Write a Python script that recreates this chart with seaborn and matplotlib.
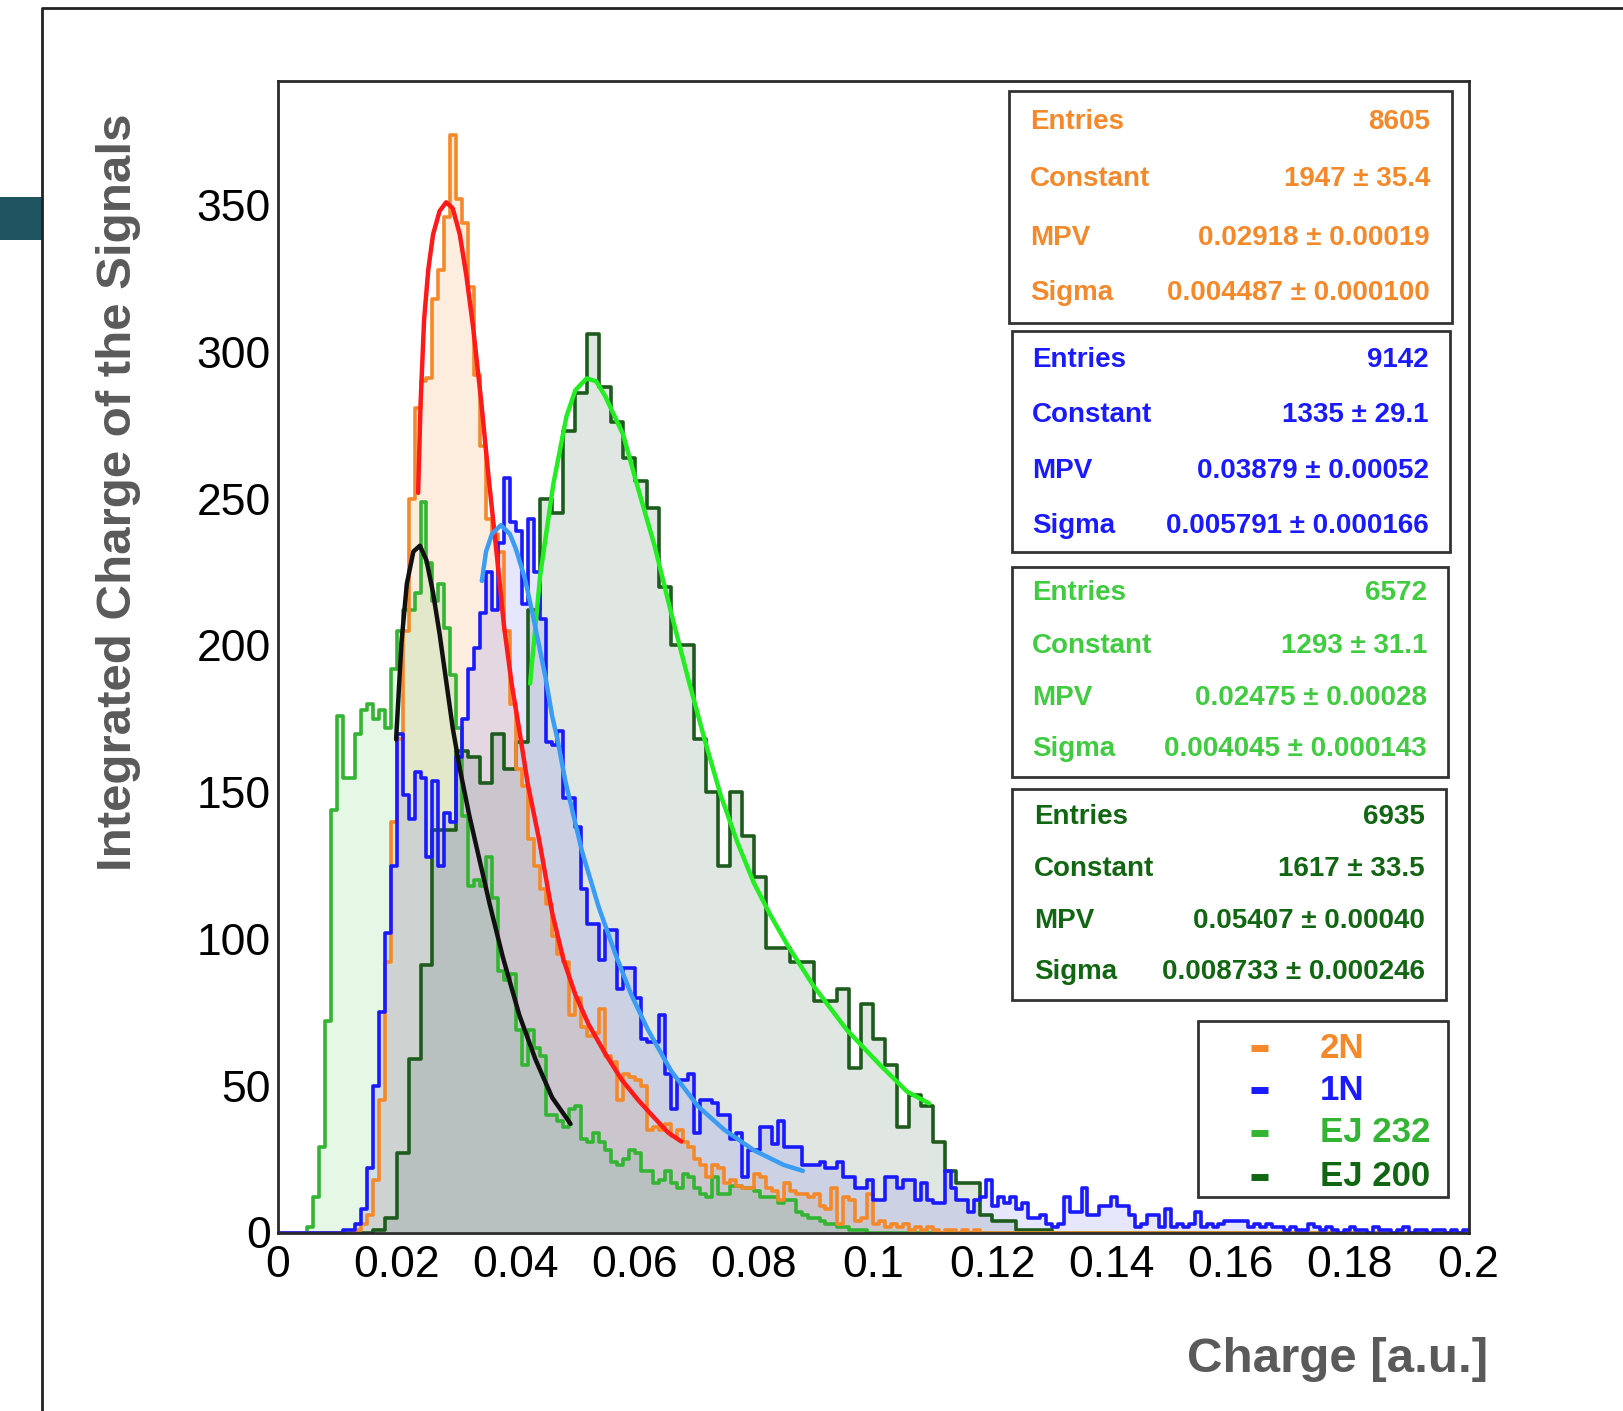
import numpy as np
import pandas as pd
import matplotlib
matplotlib.use("Agg")
import matplotlib.pyplot as plt
import seaborn as sns
from matplotlib.patches import Rectangle
from matplotlib.lines import Line2D
from matplotlib.ticker import MultipleLocator, FuncFormatter

# ---- histogram contents (counts per bin) ----
# 2N, 1N and EJ 232 use 0.001 wide bins, EJ 200 uses 0.002 wide bins
bw_fine = 0.001
bw_coarse = 0.002

start_2n = 0.013
counts_2n = [1, 3, 6, 18, 45, 92, 140, 168, 205, 250, 281, 290, 291, 318, 328, 346, 374, 352,
             344, 322, 292, 268, 243, 238, 232, 205, 180, 158, 152, 134, 125, 117, 112, 101, 95,
             92, 74, 80, 70, 67, 68, 76, 60, 58, 45, 54, 53, 52, 50, 35, 36, 35, 37, 33, 35, 31,
             29, 25, 23, 19, 23, 22, 17, 18, 16, 15, 15, 20, 19, 15, 14, 11, 17, 14, 13, 13, 12,
             13, 9, 8, 15, 3, 12, 11, 4, 5, 13, 3, 4, 2, 3, 2, 3, 1, 2, 1, 2, 1, 0, 1, 1, 0, 1, 0, 1]

start_1n = 0.011
counts_1n = [1, 1, 3, 8, 22, 50, 75, 102, 125, 170, 149, 141, 157, 155, 128, 154, 125, 143, 140,
             162, 175, 192, 199, 211, 225, 212, 235, 257, 242, 239, 214, 243, 225, 209, 167, 166,
             171, 148, 148, 138, 117, 105, 105, 93, 103, 103, 83, 90, 90, 80, 66, 65, 65, 74, 54,
             42, 52, 52, 54, 34, 45, 45, 44, 40, 40, 32, 34, 19, 28, 28, 36, 36, 30, 38, 29, 29,
             29, 23, 23, 23, 24, 22, 22, 24, 19, 19, 15, 15, 18, 11, 11, 19, 19, 15, 18, 18, 11,
             17, 11, 10, 10, 21, 15, 11, 11, 7, 11, 12, 18, 9, 12, 10, 12, 8, 10, 5, 5, 6, 3, 2,
             3, 12, 7, 7, 15, 6, 6, 9, 9, 12, 9, 9, 6, 2, 3, 6, 6, 2, 8, 2, 3, 2, 3, 7, 2, 3, 2,
             3, 4, 4, 4, 4, 2, 3, 2, 3, 2, 2, 1, 2, 1, 1, 3, 2, 1, 2, 1, 0, 1, 2, 1, 1, 0, 2, 1,
             1, 0, 1, 2, 0, 1, 1, 0, 1, 1, 0, 1, 0, 1]

start_ej232 = 0.005
counts_ej232 = [2, 12, 29, 72, 144, 176, 155, 155, 170, 178, 180, 175, 178, 172, 192, 205, 212,
                212, 218, 249, 228, 215, 221, 206, 190, 172, 142, 118, 120, 118, 128, 114, 89, 86,
                88, 69, 57, 69, 63, 60, 40, 40, 38, 36, 42, 43, 32, 31, 34, 31, 28, 24, 23, 25,
                28, 27, 21, 21, 17, 18, 21, 17, 15, 20, 19, 15, 13, 12, 19, 13, 13, 16, 16, 15,
                15, 14, 12, 12, 12, 10, 11, 11, 7, 6, 5, 5, 4, 3, 3, 2, 2, 1, 1, 1]

start_ej200 = 0.014
counts_ej200 = [0, 1, 5, 27, 59, 91, 137, 137, 164, 162, 153, 170, 158, 167, 212, 250, 245, 273,
                286, 306, 288, 276, 264, 256, 247, 220, 200, 200, 168, 150, 125, 150, 135, 121,
                97, 97, 92, 92, 79, 79, 83, 56, 78, 66, 57, 36, 47, 43, 31, 21, 17, 17, 6, 4, 4,
                1, 1, 1]

# ---- Landau fit curves ----
fit_2n_x = [0.0236, 0.0240, 0.0246, 0.0253, 0.0261, 0.0272, 0.0283, 0.0294, 0.0306, 0.0317,
            0.0328, 0.0342, 0.0354, 0.0367, 0.0380, 0.0393, 0.0406, 0.0420, 0.0439, 0.0461,
            0.0480, 0.0500, 0.0522, 0.0550, 0.0578, 0.0606, 0.0633, 0.0656, 0.0678]
fit_2n_y = [252, 282, 311, 328, 340, 348, 351, 349, 340, 326, 309, 283, 258, 233, 207, 187,
            171, 153, 134, 109, 93, 81, 71, 61, 52, 45, 39, 34, 31]

fit_ej232_x = [0.0199, 0.0208, 0.0217, 0.0228, 0.0239, 0.0250, 0.0261, 0.0272, 0.0283, 0.0294,
               0.0306, 0.0322, 0.0339, 0.0356, 0.0378, 0.0406, 0.0433, 0.0461, 0.0492]
fit_ej232_y = [168, 201, 221, 232, 234, 229, 218, 204, 188, 172, 158, 142, 127, 112, 94, 74,
               59, 46, 37]

fit_1n_x = [0.0343, 0.0350, 0.0360, 0.0375, 0.0390, 0.0400, 0.0415, 0.0428, 0.0439, 0.0450,
            0.0461, 0.0470, 0.0483, 0.0511, 0.0539, 0.0567, 0.0594, 0.0622, 0.0661, 0.0706,
            0.0750, 0.0800, 0.0850, 0.0882]
fit_1n_y = [222, 232, 238, 241, 238, 233, 223, 211, 200, 189, 176, 168, 154, 130, 111, 95, 81,
            69, 55, 43, 35, 28, 23, 21]

fit_ej200_x = [0.0424, 0.0441, 0.0463, 0.0485, 0.0500, 0.0519, 0.0535, 0.0550, 0.0580, 0.0606,
               0.0633, 0.0661, 0.0689, 0.0717, 0.0744, 0.0772, 0.0800, 0.0828, 0.0856, 0.0900,
               0.0956, 0.1012, 0.1057, 0.1094]
fit_ej200_y = [187, 224, 255, 278, 287, 291, 290, 285, 272, 253, 234, 211, 189, 168, 149, 133,
               119, 108, 98, 84, 69, 57, 48, 44]

# ---- fit results shown in the stat boxes ----
stat_labels = ["Entries", "Constant", "MPV", "Sigma"]
stats_2n = ["8605", "1947 \u00b1 35.4", "0.02918 \u00b1 0.00019", "0.004487 \u00b1 0.000100"]
stats_1n = ["9142", "1335 \u00b1 29.1", "0.03879 \u00b1 0.00052", "0.005791 \u00b1 0.000166"]
stats_ej232 = ["6572", "1293 \u00b1 31.1", "0.02475 \u00b1 0.00028", "0.004045 \u00b1 0.000143"]
stats_ej200 = ["6935", "1617 \u00b1 33.5", "0.05407 \u00b1 0.00040", "0.008733 \u00b1 0.000246"]

legend_names = ["2N", "1N", "EJ 232", "EJ 200"]

c_2n, c_2n_fill, c_2n_fit = "#f5892a", "#f7a050", "#ff1a1a"
c_1n, c_1n_fill, c_1n_fit = "#1a1aff", "#5a5af5", "#3a9cf5"
c_ej232, c_ej232_fill, c_ej232_fit = "#33b533", "#55cc55", "#111111"
c_ej200, c_ej200_fill, c_ej200_fit = "#1d5c1d", "#5f7f6a", "#22ee22"
c_txt_ej232, c_txt_ej200 = "#3fcc3f", "#116611"


def full_range(start, counts, bw):
    # put the read counts into a 0..0.2 binning, zeros elsewhere
    n = int(round(0.2 / bw))
    vals = np.zeros(n)
    i0 = int(round(start / bw))
    vals[i0:i0 + len(counts)] = counts
    edges = np.linspace(0, 0.2, n + 1)
    centers = (edges[:-1] + edges[1:]) / 2
    return pd.DataFrame({"charge": centers, "count": vals}), edges.tolist()


sns.set_style("white")
plt.rcParams["font.family"] = ["Liberation Sans", "DejaVu Sans"]

fig = plt.figure(figsize=(16.24, 14.11), dpi=100)
W, H = 1624, 1411


def fx(px):
    return px / W


def fy(py):
    return 1 - py / H


ax = fig.add_axes([fx(277.6), fy(1232.5), (1468.6 - 277.6) / W, (1232.5 - 80.8) / H])

# (start, counts, bin width, line colour, fill colour, fill alpha)
hist_2n = (start_2n, counts_2n, bw_fine, c_2n, c_2n_fill, 0.18)
hist_ej232 = (start_ej232, counts_ej232, bw_fine, c_ej232, c_ej232_fill, 0.15)
hist_ej200 = (start_ej200, counts_ej200, bw_coarse, c_ej200, c_ej200_fill, 0.19)
hist_1n = (start_1n, counts_1n, bw_fine, c_1n, c_1n_fill, 0.15)

for start, counts, bw, col, fcol, a in [hist_2n, hist_ej232, hist_ej200, hist_1n]:
    df, edges = full_range(start, counts, bw)
    sns.histplot(data=df, x="charge", weights="count", bins=edges, element="step", fill=True,
                 color=fcol, alpha=a, linewidth=0, ax=ax)
for start, counts, bw, col, fcol, a in [hist_ej200, hist_ej232, hist_2n, hist_1n]:
    df, edges = full_range(start, counts, bw)
    sns.histplot(data=df, x="charge", weights="count", bins=edges, element="step", fill=False,
                 color=col, linewidth=2.6, ax=ax)

for xs, ys, col in [(fit_ej200_x, fit_ej200_y, c_ej200_fit), (fit_ej232_x, fit_ej232_y, c_ej232_fit),
                    (fit_2n_x, fit_2n_y, c_2n_fit), (fit_1n_x, fit_1n_y, c_1n_fit)]:
    sns.lineplot(x=xs, y=ys, sort=False, color=col, linewidth=3.2, ax=ax)

ax.set_xlim(0, 0.2)
ax.set_ylim(0, 392.4)
ax.set_xlabel("")
ax.set_ylabel("")
ax.xaxis.set_major_locator(MultipleLocator(0.02))
ax.xaxis.set_minor_locator(MultipleLocator(0.005))
ax.yaxis.set_major_locator(MultipleLocator(50))
ax.yaxis.set_minor_locator(MultipleLocator(10))
ax.xaxis.set_major_formatter(FuncFormatter(lambda v, p: "%g" % round(v, 3)))
ax.tick_params(which="both", direction="in", color="#333333", width=1.6, top=False, right=False,
               labelsize=32, labelcolor="black")
ax.tick_params(which="major", length=26)
ax.tick_params(which="minor", length=13)
ax.tick_params(axis="x", pad=9)
ax.tick_params(axis="y", pad=5)
for s in ax.spines.values():
    s.set_color("#2a2a2a")
    s.set_linewidth(2)

# axis titles
fig.text(fx(119), fy(492), "Integrated Charge of the Signals", rotation=90, ha="center",
         va="center", fontsize=35.5, fontweight="bold", color="#5a5a5a")
fig.text(fx(1488), fy(1360), "Charge [a.u.]", ha="right", va="center", fontsize=35.5,
         fontweight="bold", color="#5a5a5a")

# stat boxes
boxes = [
    ((1009, 91, 1452, 323), stats_2n, c_2n, [122, 179, 238, 293], 1030, 1430),
    ((1012, 331, 1450, 552), stats_1n, c_1n, [360, 415, 471, 526], 1032, 1429),
    ((1012, 567, 1448, 777), stats_ej232, c_txt_ej232, [593, 646, 698, 749], 1032, 1427),
    ((1012, 789, 1446, 1000), stats_ej200, c_txt_ej200, [817, 869, 921, 972], 1034, 1425),
]
for (x0, y0, x1, y1), vals, col, rows, lx, rx in boxes:
    fig.add_artist(Rectangle((fx(x0), fy(y1)), (x1 - x0) / W, (y1 - y0) / H, transform=fig.transFigure,
                             facecolor="white", edgecolor="#333333", linewidth=2, zorder=5))
    for lab, val, ry in zip(stat_labels, vals, rows):
        fig.text(fx(lx), fy(ry), lab, ha="left", va="center", fontsize=20, fontweight="bold",
                 color=col, zorder=6)
        fig.text(fx(rx), fy(ry), val, ha="right", va="center", fontsize=20, fontweight="bold",
                 color=col, zorder=6)

# legend box
fig.add_artist(Rectangle((fx(1198), fy(1197)), (1448 - 1198) / W, (1197 - 1021) / H,
                         transform=fig.transFigure, facecolor="white", edgecolor="#333333",
                         linewidth=2, zorder=5))
for name, col, ry in zip(legend_names, [c_2n, c_1n, c_ej232, c_txt_ej200], [1048, 1090, 1133, 1177]):
    fig.add_artist(Line2D([fx(1251), fx(1268)], [fy(ry), fy(ry)], transform=fig.transFigure,
                          color=col, linewidth=5, solid_capstyle="butt", zorder=6))
    fig.text(fx(1320), fy(ry), name, ha="left", va="center", fontsize=25, fontweight="bold",
             color=col, zorder=6)

# outer frame and side tab of the original slide
fig.add_artist(Line2D([fx(42), fx(42), fx(1624)], [fy(1411), fy(8), fy(8)], transform=fig.transFigure,
                      color="#222222", linewidth=2))
fig.add_artist(Rectangle((0, fy(240)), fx(42), (240 - 197) / H, transform=fig.transFigure,
                         facecolor="#1f5560", edgecolor="none"))

fig.savefig("out.png", dpi=100)
